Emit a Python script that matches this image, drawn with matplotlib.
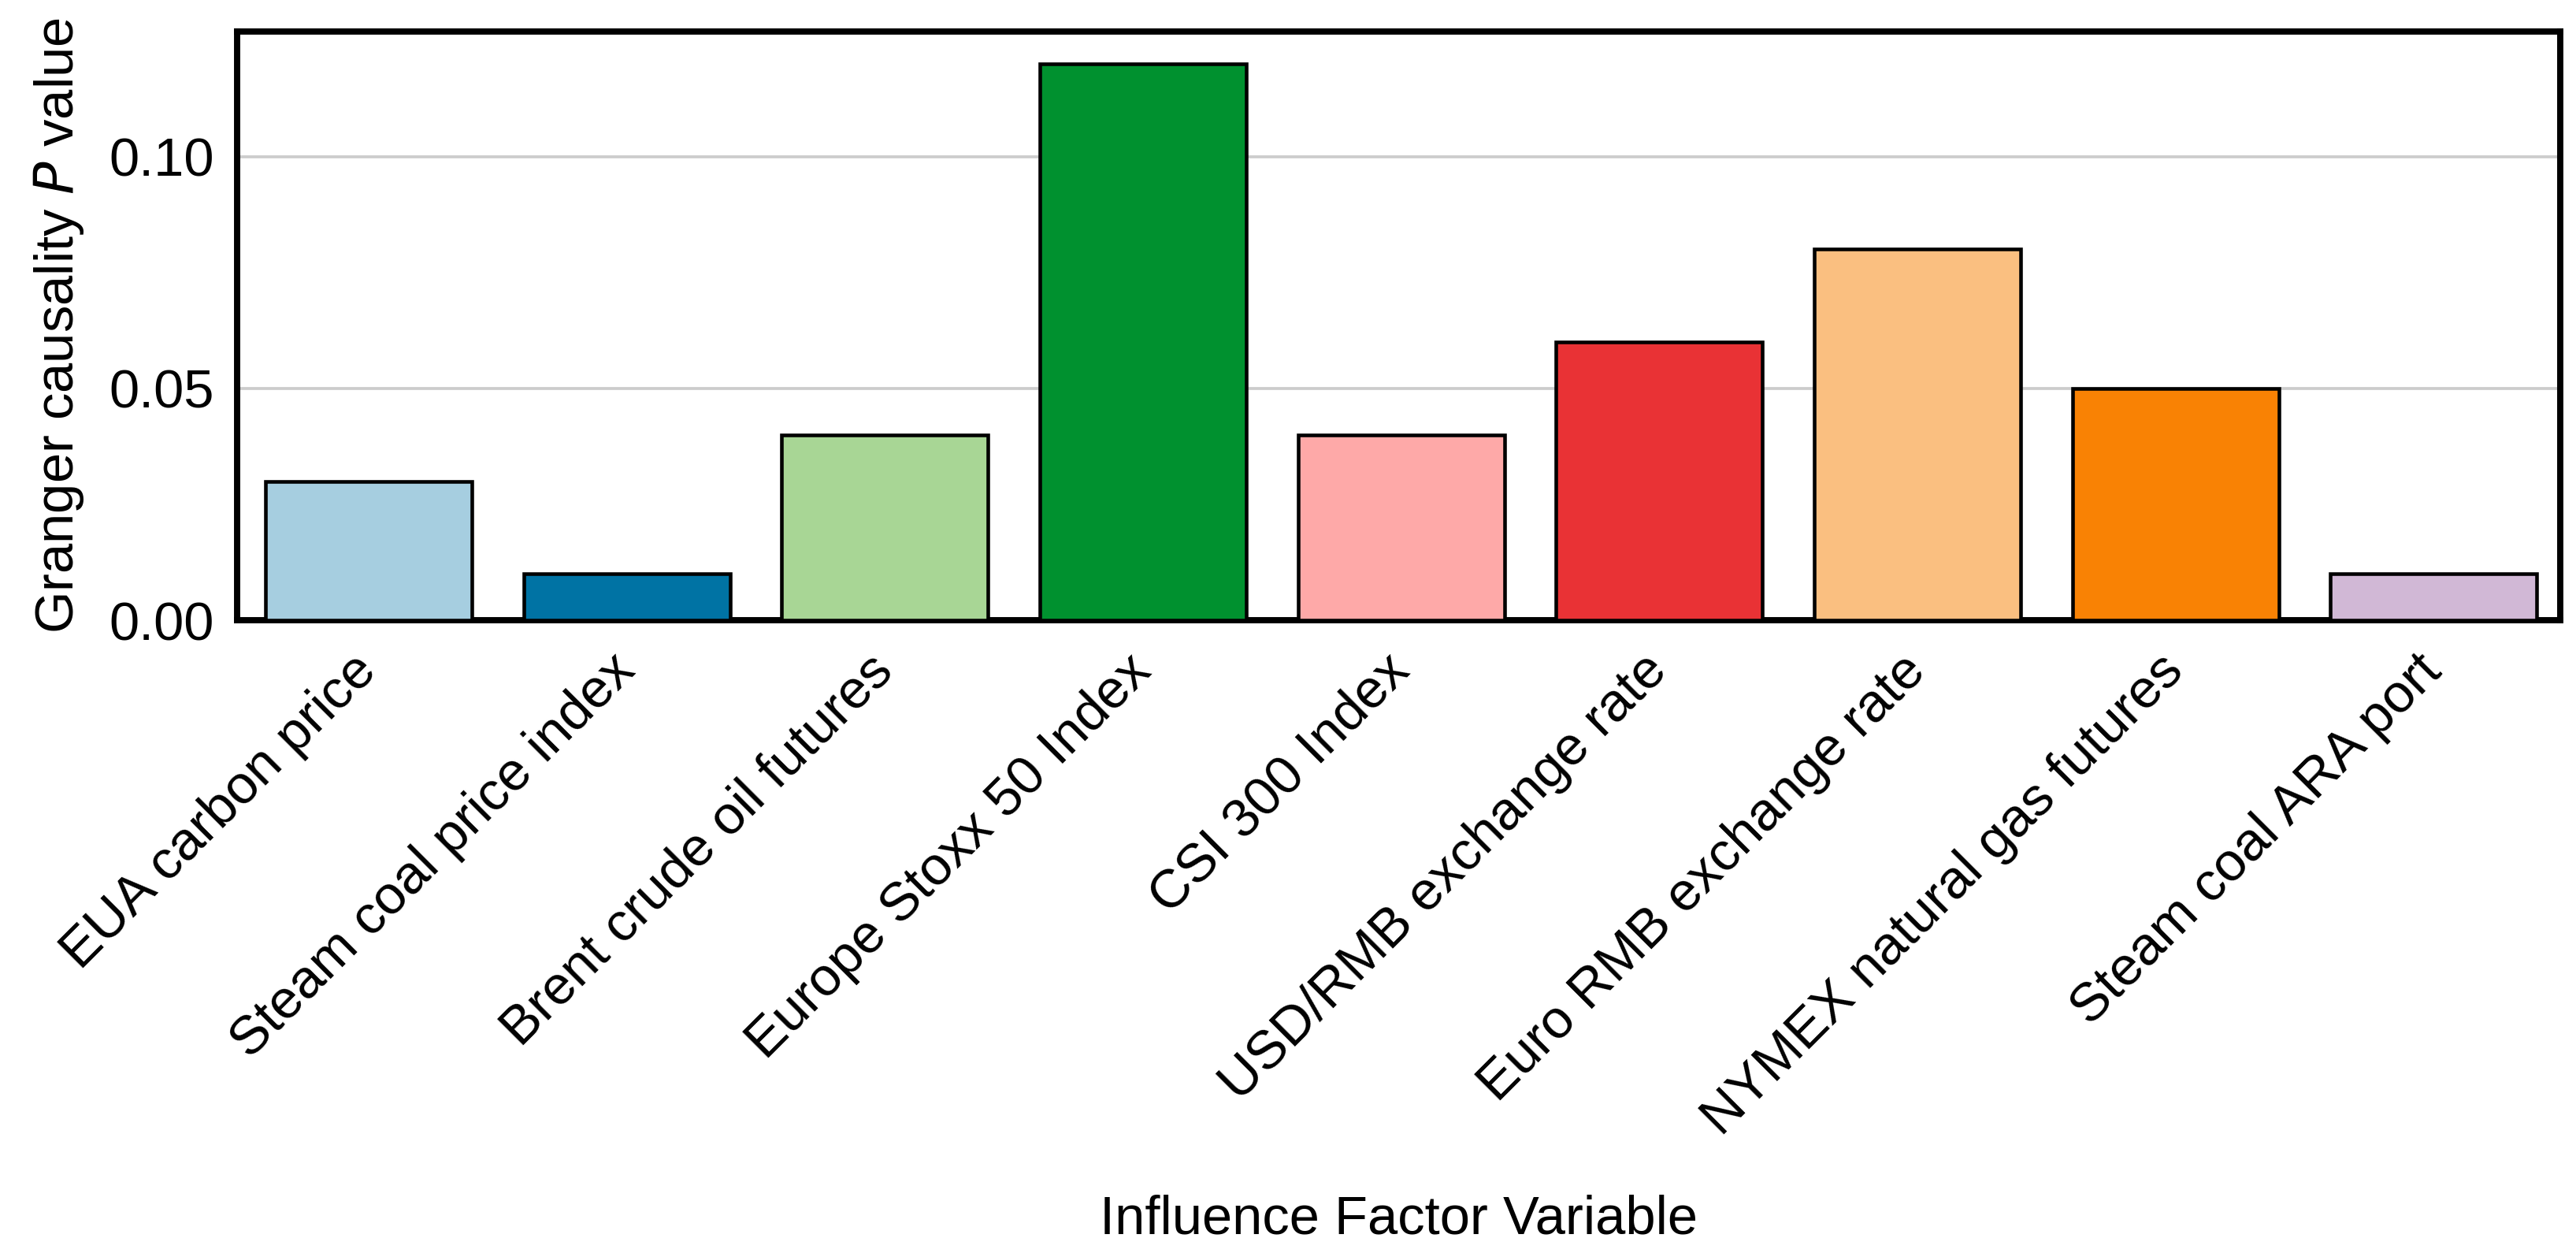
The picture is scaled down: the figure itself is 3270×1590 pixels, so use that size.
import matplotlib.pyplot as plt
import numpy as np

plt.rcParams['font.family'] = ['Liberation Sans', 'DejaVu Sans']

factors = ['EUA carbon price', 'Steam coal price index', 'Brent crude oil futures',
           'Europe Stoxx 50 Index', 'CSI 300 Index', 'USD/RMB exchange rate',
           'Euro RMB exchange rate', 'NYMEX natural gas futures', 'Steam coal ARA port']
p_values = [0.03, 0.01, 0.04, 0.12, 0.04, 0.06, 0.08, 0.05, 0.01]
colors = ['#a6cee0', '#0073a4', '#a8d695', '#00912f', '#fea9a8',
          '#e93235', '#fabf80', '#f98204', '#d1b8d6']
y_ticks = [0.00, 0.05, 0.10]

fig, ax = plt.subplots(figsize=(10.903, 5.3), dpi=300)
plt.subplots_adjust(left=0.092, right=0.9936, top=0.975, bottom=0.505)

x = np.arange(len(factors))
ax.bar(x, p_values, width=0.8, color=colors, edgecolor='black', linewidth=1.1, zorder=3)

ax.set_xlim(-0.51, 8.49)
ax.set_ylim(0, 0.127)
ax.set_yticks(y_ticks)
ax.set_yticklabels(['%.2f' % v for v in y_ticks])
ax.yaxis.grid(True, color='#cccccc', linewidth=0.9, zorder=0)
ax.set_axisbelow(True)

ax.set_xticks(x)
ax.set_xticklabels(factors, rotation=45, ha='right', va='center', rotation_mode='anchor')
ax.tick_params(axis='both', length=0, labelsize=16.5)
ax.tick_params(axis='y', pad=7)
ax.tick_params(axis='x', pad=13)

for s in ax.spines.values():
    s.set_linewidth(1.9)
    s.set_color('black')

ax.set_ylabel('Granger causality $\\mathit{P}$ value', fontsize=16.5, labelpad=7)
ax.set_xlabel('Influence Factor Variable', fontsize=16.5, labelpad=15)

plt.savefig('out.png', dpi=300)
